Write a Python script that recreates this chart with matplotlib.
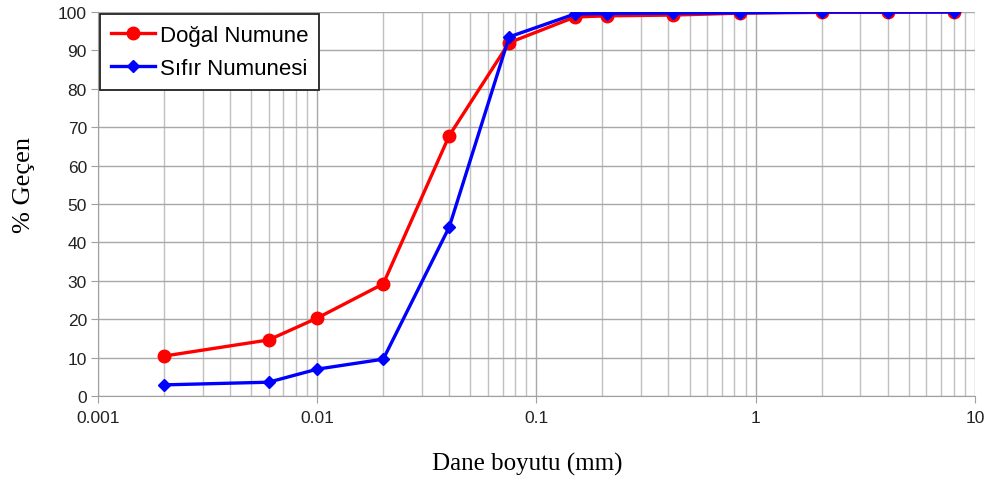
import matplotlib
matplotlib.use("Agg")
import matplotlib.pyplot as plt
from matplotlib.ticker import LogLocator, FixedLocator, FuncFormatter

# Grain size (mm) and percent passing
sizes = [0.002, 0.006, 0.01, 0.02, 0.04, 0.075, 0.15, 0.21, 0.42, 0.85, 2.0, 4.0, 8.0]
dogal = [10.4, 14.6, 20.3, 29.2, 67.8, 92.0, 98.7, 99.0, 99.2, 99.7, 99.9, 99.9, 100.0]
sifir = [2.9, 3.6, 7.0, 9.6, 44.0, 93.5, 99.5, 99.6, 99.7, 99.8, 100.0, 100.0, 100.0]

x_ticks = [0.001, 0.01, 0.1, 1, 10]
x_tick_labels = ["0.001", "0.01", "0.1", "1", "10"]
y_ticks = list(range(0, 101, 10))

fig = plt.figure(figsize=(9.87, 4.81), dpi=100)
ax = fig.add_axes([0.0993, 0.1746, 0.8885, 0.7984])

ax.set_xscale("log")
ax.set_xlim(0.001, 10)
ax.set_ylim(0, 100)

ax.plot(sizes, dogal, color="#ff0000", lw=2.4, marker="o", ms=9,
        label="Doğal Numune", zorder=3)
ax.plot(sizes, sifir, color="#0000ff", lw=2.4, marker="D", ms=6.5,
        label="Sıfır Numunesi", zorder=4)

ax.xaxis.set_major_locator(FixedLocator(x_ticks))
ax.xaxis.set_major_formatter(FuncFormatter(lambda v, p: x_tick_labels[x_ticks.index(v)] if v in x_ticks else ""))
ax.xaxis.set_minor_locator(LogLocator(base=10, subs=range(2, 10), numticks=20))
ax.xaxis.set_minor_formatter(FuncFormatter(lambda v, p: ""))
ax.set_yticks(y_ticks)

ax.grid(True, which="major", color="#a8a8a8", lw=1.0)
ax.grid(True, which="minor", axis="x", color="#c0c0c0", lw=1.0)
ax.set_axisbelow(True)

for s in ["top", "right"]:
    ax.spines[s].set_visible(False)
for s in ["left", "bottom"]:
    ax.spines[s].set_color("#a0a0a0")

ax.tick_params(axis="both", which="major", labelsize=12.5, length=5,
               color="#a0a0a0", labelcolor="#222222", pad=3)
ax.tick_params(axis="x", which="major", pad=5)
ax.tick_params(axis="x", which="minor", length=0)
for lab in ax.get_xticklabels() + ax.get_yticklabels():
    lab.set_family("Liberation Sans")

ax.set_xlabel("Dane boyutu (mm)", family="Liberation Serif", fontsize=18)
ax.xaxis.set_label_coords(0.489, -0.145)
ax.set_ylabel("% Geçen", family="Liberation Serif", fontsize=19)
ax.yaxis.set_label_coords(-0.072, 0.553)

leg = ax.legend(loc="upper left", prop={"family": "Liberation Sans", "size": 16},
                frameon=True, fancybox=False, edgecolor="#222222", framealpha=1,
                borderaxespad=0.08, handlelength=2.0, handletextpad=0.2,
                borderpad=0.5, labelspacing=0.55)
leg.get_frame().set_linewidth(1.3)

fig.savefig("out.png", dpi=100)
